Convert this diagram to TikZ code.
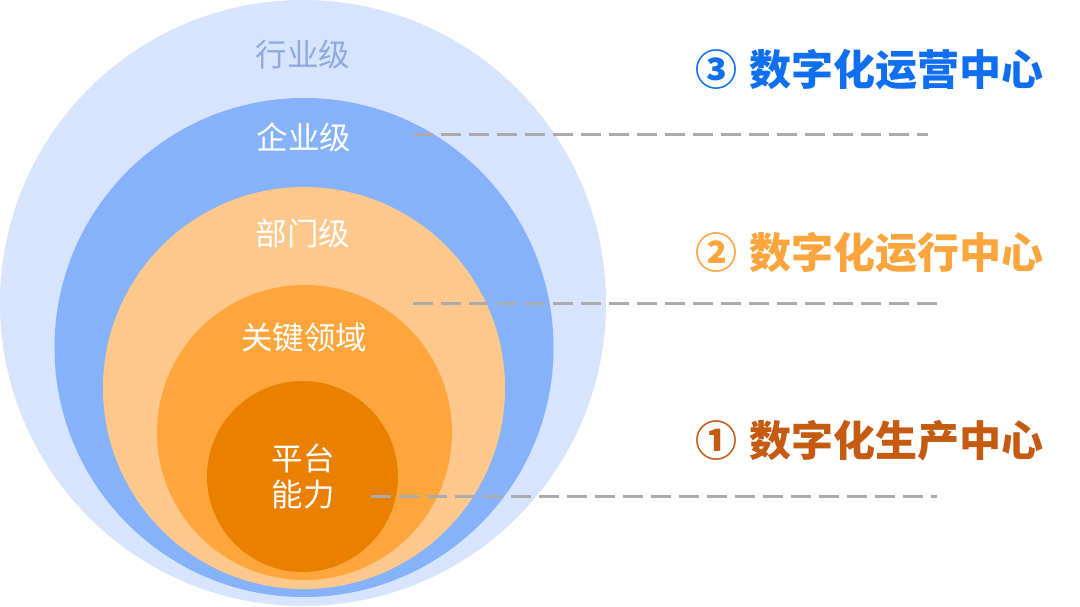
\documentclass[tikz,border=0pt]{standalone}
\usepackage{fontspec}
\newfontfamily\cjk{Noto Sans CJK SC}
\definecolor{ringA}{HTML}{D6E4FD}
\definecolor{ringB}{HTML}{85B2FA}
\definecolor{ringC}{HTML}{FEC88C}
\definecolor{ringD}{HTML}{FEA53B}
\definecolor{ringE}{HTML}{E98000}
\definecolor{lineg}{HTML}{ABABAB}
\definecolor{tthree}{HTML}{0F6FF0}
\definecolor{ttwo}{HTML}{FBA53C}
\definecolor{tone}{HTML}{C55A11}
\definecolor{lblblue}{HTML}{8FAADC}
\begin{document}
\begin{tikzpicture}[x=1pt,y=-1pt,
  ring/.style={circle,inner sep=0pt,outer sep=0pt,draw=none},
  lbl/.style={font=\cjk\fontsize{31.5}{36}\selectfont,text=white,align=center,inner sep=0pt},
  title/.style={font=\cjk\bfseries\fontsize{42}{48}\selectfont,anchor=west,inner sep=0pt},
  guide/.style={draw=lineg,line width=3pt,dash pattern=on 20pt off 8pt}]
\useasboundingbox (0,0) rectangle (1080,606);
\begin{scope}
\clip (0,0) rectangle (1080,606);
\node[ring,fill=ringA,minimum size=606pt] (industry) at (303,303) {};
\node[ring,fill=ringB,minimum size=499pt] (enterprise) at (304,347.5) {};
\node[ring,fill=ringC,minimum size=402pt] (dept) at (304,388) {};
\node[ring,fill=ringD,minimum size=295pt] (key) at (304.5,432.5) {};
\node[ring,fill=ringE,minimum size=191pt] (platform) at (302.5,476.5) {};
\end{scope}
\node[lbl,text=lblblue] (lindustry) at (303,55) {行业级};
\node[lbl] (lenterprise) at (304,137) {企业级};
\node[lbl] (ldept) at (303,233) {部门级};
\node[lbl] (lkey) at (304,338) {关键领域};
\node[lbl] (lplatform) at (303,477) {平台\\能力};
\coordinate (a1) at (413,134);
\coordinate (a2) at (928,134);
\coordinate (b1) at (413,303);
\coordinate (b2) at (937,303);
\coordinate (d1) at (371,496);
\coordinate (d2) at (937,496);
\draw[guide] (a1) -- (a2);
\draw[guide] (b1) -- (b2);
\draw[guide] (d1) -- (d2);
\node[title,text=tthree] (tthreen) at (695,70) {③\hspace{3pt} 数字化运营中心};
\node[title,text=ttwo] (ttwon) at (695,253) {②\hspace{3pt} 数字化运行中心};
\node[title,text=tone] (tonen) at (695,441) {①\hspace{3pt} 数字化生产中心};
\end{tikzpicture}
\end{document}
